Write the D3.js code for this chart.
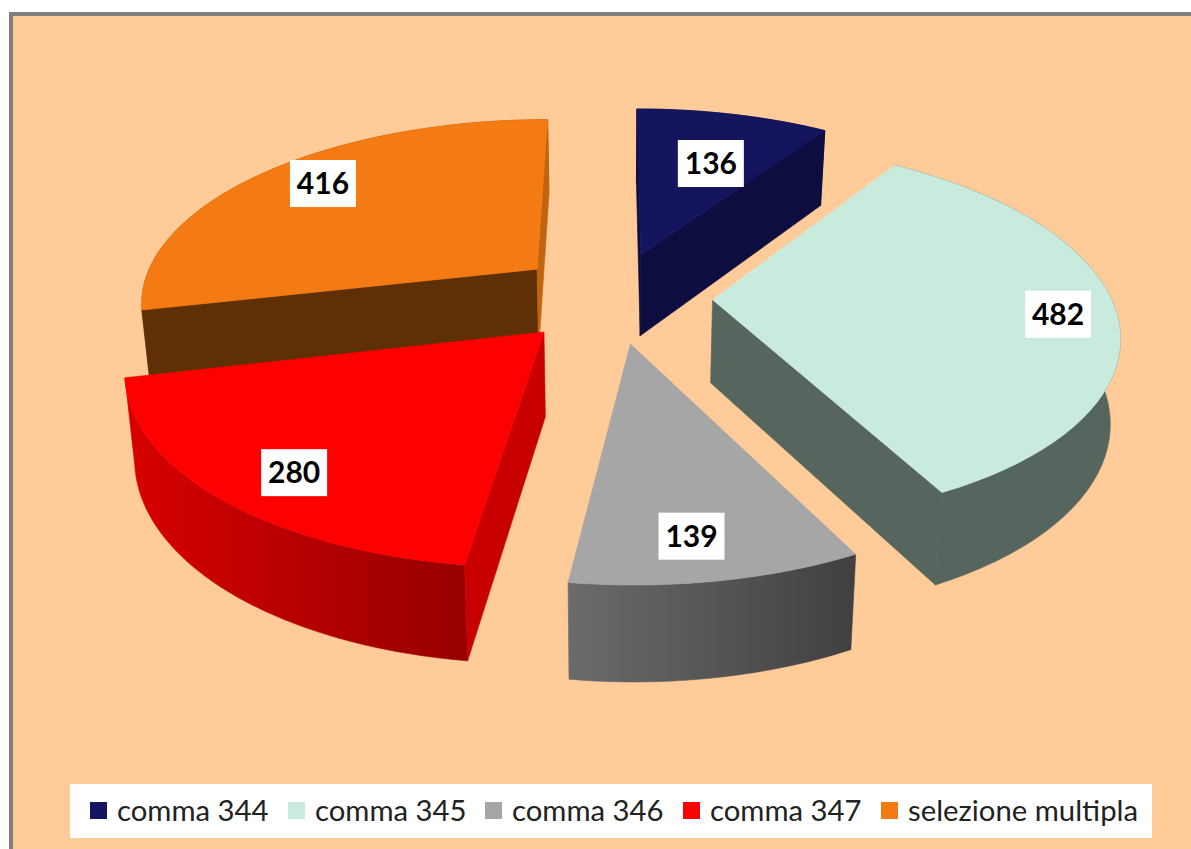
<!DOCTYPE html>
<html>
<head>
<meta charset="utf-8">
<script src="https://cdn.jsdelivr.net/npm/d3@7/dist/d3.min.js"></script>
<style>
html, body { margin: 0; padding: 0; background: #fff; overflow: hidden; }
text { font-family: Lato, "Open Sans", sans-serif; }
</style>
</head>
<body>
<svg id="chart" width="1191" height="849"></svg>
<script>
var categories = ["comma 344", "comma 345", "comma 346", "comma 347", "selezione multipla"];
var values = [136, 482, 139, 280, 416];
var topColors = ["#14145f", "#c9ebdd", "#a6a6a6", "#ff0000", "#f47b13"];
var wallFrom = ["#0d0d40", "#56665e", "#6b6b6b", "#d80000", "#b35a0e"];
var wallTo = ["#0d0d40", "#56665e", "#404040", "#960000", "#b35a0e"];
var startFaces = ["#0d0d40", "#56665e", "#555555", "#c80000", "#5f2f05"];
var endFaces = ["#0d0d40", "#56665e", "#555555", "#c80000", "#c0640f"];
var labelRadius = [0.626, 0.855, 0.835, 0.828, 0.817];
var labelTurn = [2.5, 1.8, 1.4, -3.1, 2.5];
var drawOrder = [4, 0, 1, 3, 2];

var svg = d3.select("#chart");
var defs = svg.append("defs");

// camera numbers, fitted by eye against the reference
var cx = 613, cy = 297, radiusX = 398, tilt = 0.46, camDist = 6;
var explode = 0.25, squeeze = 0.02;

var pie = d3.pie().sort(null);
var slices = pie(values);

function project(x, y, z) {
    var s = camDist / (camDist + y),
        shrink = 1 - squeeze * z;
    return [
        cx + radiusX * x * s * shrink,
        cy - radiusX * tilt * y * s + (30 + 53 * s) * z
    ];
}

function pointOn(d, angle, r, z) {
    var mid = (d.startAngle + d.endAngle) / 2;
    return project(
        explode * Math.sin(mid) + r * Math.sin(angle),
        explode * Math.cos(mid) + r * Math.cos(angle),
        z
    );
}

function arcPoints(d, z) {
    var n = 48;
    return d3.range(n + 1).map(function (i) {
        return pointOn(d, d.startAngle + (d.endAngle - d.startAngle) * i / n, 1, z);
    });
}

function face(g, points, fill) {
    g.append("path")
        .attr("d", d3.line()(points) + "Z")
        .attr("fill", fill)
        .attr("stroke", fill)
        .attr("stroke-width", 0.6);
}

svg.append("rect")
    .attr("x", 11).attr("y", 14)
    .attr("width", 1190).attr("height", 850)
    .attr("fill", "#fecb99")
    .attr("stroke", "#7f7f7f")
    .attr("stroke-width", 4);

drawOrder.forEach(function (i) {
    var d = slices[i],
        g = svg.append("g").attr("class", "slice"),
        gradId = "wall" + i,
        grad,
        topArc = arcPoints(d, 0),
        bottomArc = arcPoints(d, 1),
        apexTop = pointOn(d, 0, 0, 0),
        apexBottom = pointOn(d, 0, 0, 1),
        startFace = [apexTop, topArc[0], bottomArc[0], apexBottom],
        endFace = [apexTop, topArc[48], bottomArc[48], apexBottom];

    grad = defs.append("linearGradient").attr("id", gradId)
        .attr("x1", 0).attr("x2", 1).attr("y1", 0).attr("y2", 0);
    grad.append("stop").attr("offset", 0).attr("stop-color", wallFrom[i]);
    grad.append("stop").attr("offset", 1).attr("stop-color", wallTo[i]);

    face(g, topArc.concat(bottomArc.slice().reverse()), "url(#" + gradId + ")");
    // only the radial faces turned to the camera
    if (d3.polygonArea(startFace) > 0) {
        face(g, startFace, startFaces[i]);
    }
    if (d3.polygonArea(endFace) < 0) {
        face(g, endFace, endFaces[i]);
    }
    face(g, [apexTop].concat(topArc), topColors[i]);
});

// value labels
slices.forEach(function (d, i) {
    var mid = (d.startAngle + d.endAngle) / 2,
        p = pointOn(d, mid + labelTurn[i] * Math.PI / 180, labelRadius[i], 0),
        g = svg.append("g").attr("transform", "translate(" + p[0] + "," + p[1] + ")");
    g.append("rect")
        .attr("x", -33).attr("y", -23.5)
        .attr("width", 66).attr("height", 47)
        .attr("fill", "#fff");
    g.append("text")
        .attr("text-anchor", "middle")
        .attr("dy", "0.36em")
        .attr("font-size", 30)
        .attr("font-weight", 700)
        .attr("fill", "#000")
        .text(d.data);
});

// legend
var legend = svg.append("g");
legend.append("rect")
    .attr("x", 70).attr("y", 784)
    .attr("width", 1082).attr("height", 54)
    .attr("fill", "#fff");

var legendX = d3.scaleOrdinal()
    .domain(categories)
    .range([90, 288, 485, 683, 881]);

var items = legend.selectAll("g.item").data(categories)
    .enter().append("g")
    .attr("class", "item")
    .attr("transform", function (d) { return "translate(" + legendX(d) + ",802)"; });
items.append("rect")
    .attr("width", 17).attr("height", 17)
    .attr("fill", function (d, i) { return topColors[i]; });
items.append("text")
    .attr("x", 27).attr("y", 19)
    .attr("font-size", 29.3)
    .attr("fill", "#222")
    .text(function (d) { return d; });
</script>
</body>
</html>
